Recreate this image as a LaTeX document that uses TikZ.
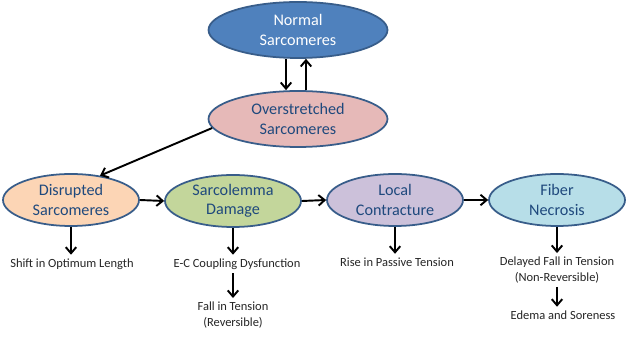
\documentclass[tikz,border=0pt]{standalone}
\usepackage{fontspec}
\setmainfont{Carlito}
\usetikzlibrary{shapes.geometric, arrows.meta}

\definecolor{edgeblue}{HTML}{385D8A}
\definecolor{textblue}{HTML}{1F497D}
\definecolor{normalfill}{HTML}{4F81BD}
\definecolor{overfill}{HTML}{E6B9B8}
\definecolor{disfill}{HTML}{FCD5B5}
\definecolor{sarcofill}{HTML}{C3D69B}
\definecolor{localfill}{HTML}{CCC1DA}
\definecolor{fiberfill}{HTML}{B7DEE8}

\begin{document}
\begin{tikzpicture}[x=0.02cm, y=-0.02cm,
    bubble/.style={ellipse, draw=edgeblue, line width=1pt, text=textblue, align=center,
      inner sep=0pt, minimum width=2.72cm, minimum height=1.04cm,
      font=\fontsize{9.2}{11}\selectfont},
    topbubble/.style={bubble, minimum width=3.58cm, minimum height=1.12cm},
    effect/.style={align=center, inner sep=2pt, text=black!85,
      font=\fontsize{7.1}{9}\selectfont},
    arr/.style={-{Straight Barb[length=3.5pt, width=6pt]}, line width=1.1pt}]
  \useasboundingbox[fill=white] (0,0) rectangle (628,340);

  % Top pair
  \node[topbubble, fill=normalfill, text=white] (normal) at (298,30) {Normal\\Sarcomeres};
  \node[topbubble, fill=overfill] (over) at (298,119) {Overstretched\\Sarcomeres};
  \draw[arr] ([xshift=-0.24cm]normal.south) -- ([xshift=-0.24cm]over.north);
  \draw[arr] ([xshift=0.16cm]over.north) -- ([xshift=0.16cm]normal.south);

  % Chain of damage
  \node[bubble, fill=disfill] (disrupted) at (71,200) {Disrupted\\Sarcomeres};
  \node[bubble, fill=sarcofill] (sarco) at (233,201) {Sarcolemma\\Damage};
  \node[bubble, fill=localfill] (local) at (395,200) {Local\\Contracture};
  \node[bubble, fill=fiberfill] (fiber) at (557,200) {Fiber\\Necrosis};
  \draw[arr] (over.186) -- (disrupted.40);
  \draw[arr] (disrupted.east) -- (sarco.west);
  \draw[arr] (sarco.east) -- (local.west);
  \draw[arr] (local.east) -- (fiber.west);

  % Effects
  \node[effect] (shift) at (72,264) {Shift in Optimum Length};
  \node[effect] (ecc) at (237,264) {E-C Coupling Dysfunction};
  \node[effect] (fall) at (233,315) {Fall in Tension\\(Reversible)};
  \node[effect] (rise) at (397,262) {Rise in Passive Tension};
  \node[effect] (delayed) at (557,270) {Delayed Fall in Tension\\(Non-Reversible)};
  \node[effect] (edema) at (563,315) {Edema and Soreness};
  \draw[arr] (disrupted.south) -- (disrupted.south |- shift.north);
  \draw[arr] (sarco.south) -- (sarco.south |- ecc.north);
  \draw[arr] (sarco.south |- ecc.south) -- (sarco.south |- fall.north);
  \draw[arr] (local.south) -- (local.south |- rise.north);
  \draw[arr] (fiber.south) -- (fiber.south |- delayed.north);
  \draw[arr] (fiber.south |- delayed.south) -- (fiber.south |- edema.north);
\end{tikzpicture}
\end{document}
